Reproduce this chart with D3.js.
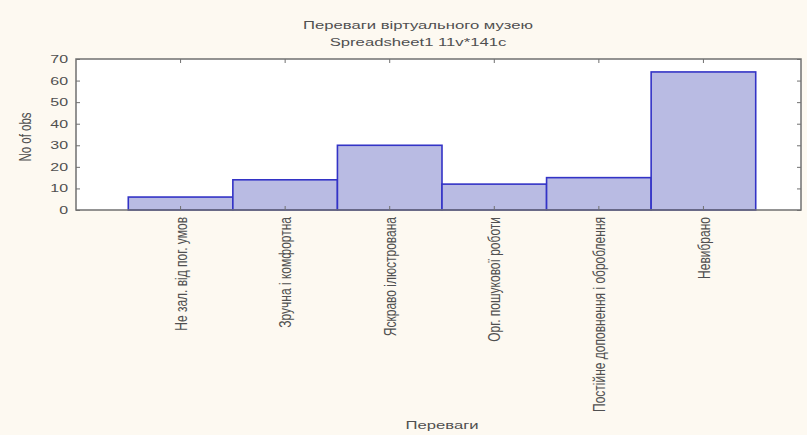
<!DOCTYPE html>
<html>
<head>
<meta charset="utf-8">
<script src="https://cdn.jsdelivr.net/npm/d3@7"></script>
<style>
  body { margin: 0; background: #fdf9f1; }
  svg { display: block; }
  text { font-family: "Liberation Sans", Arial, sans-serif; fill: #505050; }
</style>
</head>
<body>
<div id="chart-area"></div>
<script>
// data
let categories = ["Не зал. від пог. умов", "Зручна і комфортна", "Яскраво ілюстрована",
                  "Орг. пошукової роботи", "Постійне доповнення і оброблення", "Невибрано"];
let counts = [6, 14, 30, 12, 15, 64];
let yTicks = [0, 10, 20, 30, 40, 50, 60, 70];

let W = 807, H = 435;
let plot = { left: 76, top: 59, right: 801, bottom: 210 };
let stretch = 1.45; // the original picture is stretched sideways

let svg = d3.select("#chart-area")
    .append("svg")
    .attr("width", W)
    .attr("height", H);

svg.append("rect")
    .attr("width", W).attr("height", H)
    .attr("fill", "#fdf9f1");

let xScale = d3.scaleBand()
    .domain(categories)
    .range([plot.left, 808])
    .paddingInner(0)
    .paddingOuter(0.5);

let yScale = d3.scaleLinear()
    .domain([0, 70])
    .range([plot.bottom, plot.top]);

// plot area
svg.append("rect")
    .attr("x", plot.left).attr("y", plot.top)
    .attr("width", plot.right - plot.left)
    .attr("height", plot.bottom - plot.top)
    .attr("fill", "#ffffff");

// bars
svg.selectAll("rect.bar")
    .data(counts)
    .enter()
    .append("rect")
    .attr("class", "bar")
    .attr("x", function(d, i){ return xScale(categories[i]); })
    .attr("y", function(d){ return yScale(d); })
    .attr("width", xScale.bandwidth())
    .attr("height", function(d){ return plot.bottom - yScale(d); })
    .attr("fill", "#b9bbe3")
    .attr("stroke", "#3333c6")
    .attr("stroke-width", 1.6);

// frame
svg.append("rect")
    .attr("x", plot.left).attr("y", plot.top)
    .attr("width", plot.right - plot.left)
    .attr("height", plot.bottom - plot.top)
    .attr("fill", "none")
    .attr("stroke", "#707070")
    .attr("stroke-width", 1.5);

// Y AXIS
let yAxis = svg.append("g")
    .attr("transform", "translate(" + plot.left + ",0)")
    .call(d3.axisLeft(yScale).tickValues(yTicks).tickSize(-4).tickPadding(5.5));
yAxis.select(".domain").remove();
yAxis.selectAll("line").attr("stroke", "#707070");
yAxis.selectAll("text")
    .attr("font-size", "11px")
    .attr("fill", "#505050")
    .attr("transform", "scale(" + stretch + ",1)");

// right side ticks
let yRight = svg.append("g")
    .attr("transform", "translate(" + plot.right + ",0)")
    .call(d3.axisRight(yScale).tickValues(yTicks).tickSize(-4).tickFormat(""));
yRight.select(".domain").remove();
yRight.selectAll("line").attr("stroke", "#707070");

// X AXIS
let xAxis = svg.append("g")
    .attr("transform", "translate(0," + plot.bottom + ")")
    .call(d3.axisBottom(xScale).tickSize(-4));
xAxis.select(".domain").remove();
xAxis.selectAll("line").attr("stroke", "#707070");
xAxis.selectAll("text")
    .attr("font-size", "12px")
    .attr("fill", "#505050")
    .attr("text-anchor", "end")
    .attr("x", -7)
    .attr("y", 0)
    .attr("dy", "0.35em")
    .attr("transform", "scale(" + stretch + ",1) rotate(-90)");

// top ticks
let xTop = svg.append("g")
    .attr("transform", "translate(0," + plot.top + ")")
    .call(d3.axisTop(xScale).tickSize(-4).tickFormat(""));
xTop.select(".domain").remove();
xTop.selectAll("line").attr("stroke", "#707070");

// TITLES
function label(x, y, txt, size, rot) {
    svg.append("text")
        .attr("transform", "translate(" + x + "," + y + ") scale(" + stretch + ",1)" + (rot ? " rotate(-90)" : ""))
        .attr("text-anchor", "middle")
        .attr("font-size", size)
        .text(txt);
}

label(418, 29, "Переваги віртуального музею", "11.5px");
label(418, 46, "Spreadsheet1 11v*141c", "11.5px");
label(31, 137, "No of obs", "11.5px", true);
label(442, 429, "Переваги", "11.5px");
</script>
</body>
</html>
